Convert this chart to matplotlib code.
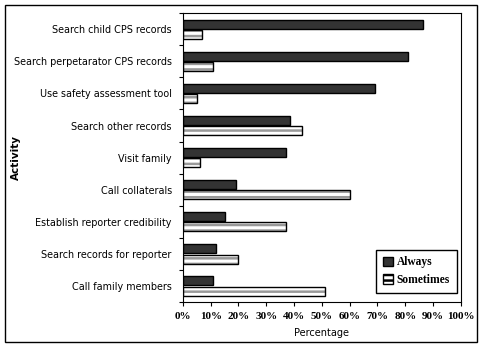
import numpy as np
from matplotlib import pyplot as plt
from matplotlib.patches import Rectangle, Patch

activities = ["Search child CPS records", "Search perpetarator CPS records",
              "Use safety assessment tool", "Search other records", "Visit family",
              "Call collaterals", "Establish reporter credibility",
              "Search records for reporter", "Call family members"]
always = [86.5, 81, 69, 38.5, 37, 19, 15, 12, 11]
sometimes = [7, 11, 5, 43, 6, 60, 37, 20, 51]
xticks = [0, 10, 20, 30, 40, 50, 60, 70, 80, 90, 100]

fig = plt.figure(figsize=(4.8, 3.46), dpi=100)
ax = fig.add_axes([0.381, 0.127, 0.579, 0.835])
plt.rcParams['hatch.linewidth'] = 1.8

n = len(activities)
y = np.arange(n)
h = 0.28
ax.barh(y - h/2 - 0.02, always, height=h, color='#333333', edgecolor='black', linewidth=1)
# striped fill, then black outline on top
ax.barh(y + h/2 + 0.02, sometimes, height=h, color='white', edgecolor='#999999',
        hatch='---', linewidth=0)
ax.barh(y + h/2 + 0.02, sometimes, height=h, fill=False, edgecolor='black', linewidth=1)

ax.set_ylim(n - 0.5, -0.5)
ax.set_xlim(0, 100)
ax.set_yticks(np.arange(-0.5, n, 1))
ax.set_yticklabels([])
ax.set_yticks(y, minor=True)
ax.set_yticklabels(activities, minor=True, fontsize=6.9, family='DejaVu Sans')
ax.tick_params(axis='y', which='minor', length=0, pad=8)
ax.tick_params(axis='y', which='major', length=3)
ax.set_xticks(xticks)
ax.set_xticklabels([f"{v}%" for v in xticks], fontsize=8, family='Liberation Serif',
                   fontweight='bold')
ax.tick_params(axis='x', length=3, pad=4)
ax.set_xlabel("Percentage", fontsize=7, family='DejaVu Sans', labelpad=5)
fig.text(16/480, 1 - 157/346, "Activity", rotation=90, fontsize=7.5, fontweight='bold',
         family='DejaVu Sans', ha='center', va='center')

leg = ax.legend(handles=[Patch(facecolor='#333333', edgecolor='black', label='Always'),
                         Patch(facecolor='white', edgecolor='black', hatch='---', label='Sometimes')],
                loc='lower right', bbox_to_anchor=(0.986, 0.031), fancybox=False,
                edgecolor='black', framealpha=1, handlelength=0.9, handleheight=0.9,
                handletextpad=0.3, borderpad=0.6, labelspacing=0.5, borderaxespad=0,
                prop={'family': 'Liberation Serif', 'weight': 'bold', 'size': 8.3})
leg.get_frame().set_linewidth(1)

fig.patches.append(Rectangle((5/480, 4/346), 472/480, 337/346, transform=fig.transFigure,
                             fill=False, edgecolor='black', linewidth=1))

plt.savefig("out.png", dpi=100)
